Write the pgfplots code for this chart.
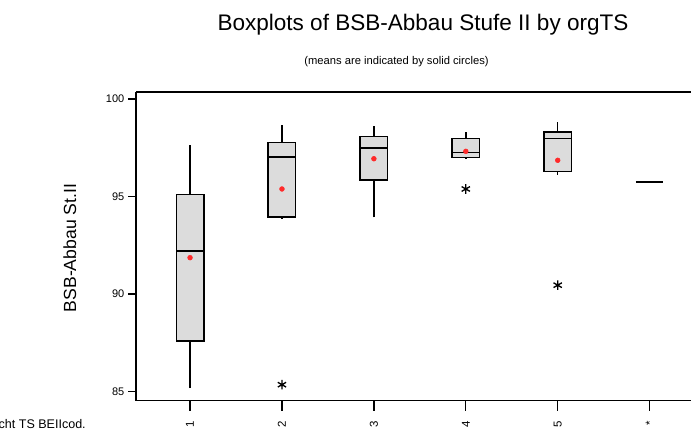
\documentclass[border=0pt]{standalone}
\usepackage{fontspec}
\setmainfont{Liberation Sans}
\usepackage{pgfplots}
\pgfplotsset{compat=1.18}
\definecolor{boxgray}{HTML}{DCDCDC}
\definecolor{meanred}{HTML}{FF2A2A}

\begin{document}
\begin{tikzpicture}
\useasboundingbox (0pt,0pt) rectangle (518.25pt,324pt);
\begin{axis}[
  at={(102pt,23.625pt)}, anchor=south west,
  scale only axis, width=416.25pt, height=231.375pt,
  xmin=0.412, xmax=6.45, ymin=84.55, ymax=100.36,
  axis x line*=box, axis y line*=left,
  axis line style={-, line width=1.2pt},
  xtick={1,2,3,4,5,6}, xticklabels={1,2,3,4,5,*},
  ytick={85,90,95,100},
  tick align=outside, xtick pos=bottom, ytick pos=left,
  tick style={black, line width=1pt},
  xtick style={/pgfplots/major tick length=7.5pt},
  ytick style={/pgfplots/major tick length=6pt},
  /pgf/number format/assume math mode=true,
  xticklabel style={font=\fontsize{8.6}{9}\selectfont, rotate=90, anchor=east, xshift=-7.5pt},
  yticklabel style={font=\fontsize{8.25}{9}\selectfont, xshift=-1pt},
  whisker/.style={black, line width=1.1pt},
  box/.style={draw=black, fill=boxgray, line width=1.1pt},
  median/.style={black, line width=1.1pt},
]
% group 1: whiskers, box (Q1..Q3), median
\addplot[whisker] coordinates {(1,85.19) (1,87.61)};
\addplot[whisker] coordinates {(1,95.10) (1,97.64)};
\addplot[box] coordinates {(0.85,87.61) (1.15,87.61) (1.15,95.10) (0.85,95.10)} -- cycle;
\addplot[median] coordinates {(0.85,92.20) (1.15,92.20)};
% group 2
\addplot[whisker] coordinates {(2,93.87) (2,93.96)};
\addplot[whisker] coordinates {(2,97.78) (2,98.68)};
\addplot[box] coordinates {(1.85,93.96) (2.15,93.96) (2.15,97.78) (1.85,97.78)} -- cycle;
\addplot[median] coordinates {(1.85,97.03) (2.15,97.03)};
% group 3
\addplot[whisker] coordinates {(3,93.94) (3,95.84)};
\addplot[whisker] coordinates {(3,98.07) (3,98.62)};
\addplot[box] coordinates {(2.85,95.84) (3.15,95.84) (3.15,98.07) (2.85,98.07)} -- cycle;
\addplot[median] coordinates {(2.85,97.49) (3.15,97.49)};
% group 4
\addplot[whisker] coordinates {(4,96.94) (4,97.01)};
\addplot[whisker] coordinates {(4,97.99) (4,98.31)};
\addplot[box] coordinates {(3.85,97.01) (4.15,97.01) (4.15,97.99) (3.85,97.99)} -- cycle;
\addplot[median] coordinates {(3.85,97.27) (4.15,97.27)};
% group 5
\addplot[whisker] coordinates {(5,96.11) (5,96.28)};
\addplot[whisker] coordinates {(5,98.31) (5,98.84)};
\addplot[box] coordinates {(4.85,96.28) (5.15,96.28) (5.15,98.31) (4.85,98.31)} -- cycle;
\addplot[median] coordinates {(4.85,97.99) (5.15,97.99)};
% group * (single value: the box collapses to a line)
\addplot[median] coordinates {(5.85,95.75) (6.15,95.75)};
% outliers
\addplot[only marks, mark=asterisk, mark size=3.6pt, mark options={line width=1pt, black}]
  coordinates {(2,85.36) (4,95.39) (5,90.46)};
% group means
\addplot[only marks, mark=*, mark size=1.8pt, color=meanred, line width=0.4pt]
  coordinates {(1,91.87) (2,95.39) (3,96.94) (4,97.32) (5,96.86)};
\end{axis}
% titles and labels
\node[anchor=base, font=\fontsize{16.9}{18}\selectfont] at (317.25pt,300.975pt)
  {Boxplots of BSB-Abbau Stufe II by orgTS};
\node[anchor=base, font=\fontsize{8.4}{9}\selectfont] at (297.375pt,275.25pt)
  {(means are indicated by solid circles)};
\node[rotate=90, anchor=base, font=\fontsize{13.2}{15}\selectfont] at (57pt,138pt)
  {BSB-Abbau St.II};
\node[anchor=base east, font=\fontsize{9.4}{10}\selectfont, inner sep=0pt] at (64.5pt,3pt)
  {cht TS BEIIcod.};
\end{tikzpicture}
\end{document}
